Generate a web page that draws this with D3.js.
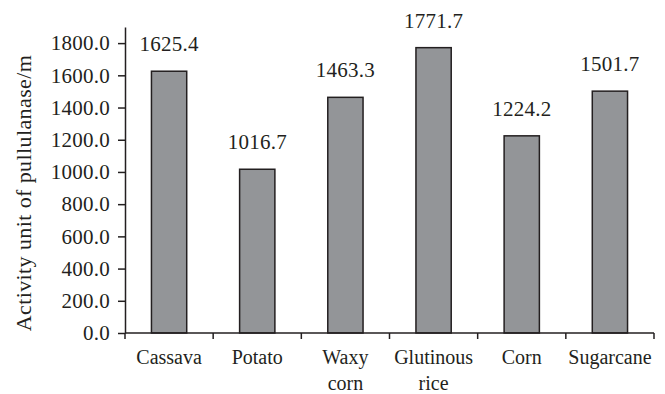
<!DOCTYPE html>
<html>
<head>
<meta charset="utf-8">
<script src="https://cdn.jsdelivr.net/npm/d3@7"></script>
<style>
  html, body { margin: 0; padding: 0; background: #fff; }
  svg { display: block; }
  text { font-family: "Liberation Serif", "DejaVu Serif", serif; fill: #231f20; }
</style>
</head>
<body>
<svg id="chart" width="665" height="394"></svg>
<script>
// Pullulanase activity by carbon source
const categories = ["Cassava", "Potato", "Waxy corn", "Glutinous rice", "Corn", "Sugarcane"];
const categoryLines = [["Cassava"], ["Potato"], ["Waxy", "corn"], ["Glutinous", "rice"], ["Corn"], ["Sugarcane"]];
const activity = [1625.4, 1016.7, 1463.3, 1771.7, 1224.2, 1501.7];
const yTicks = [0, 200, 400, 600, 800, 1000, 1200, 1400, 1600, 1800];
const yTitle = "Activity unit of pullulanase/m";

const svg = d3.select("#chart");
const margin = { left: 125, right: 11, top: 27, bottom: 61 };
const W = 665, H = 394;

const x = d3.scaleBand()
  .domain(categories)
  .range([margin.left, W - margin.right])
  .padding(0);

const y = d3.scaleLinear()
  .domain([0, 1900])
  .range([H - margin.bottom, margin.top]);

const ink = "#231f20";
const barW = x.bandwidth() * 0.4;
const numSize = 21;

// Bars
svg.append("g")
  .selectAll("rect")
  .data(activity)
  .join("rect")
  .attr("x", (d, i) => x(categories[i]) + (x.bandwidth() - barW) / 2)
  .attr("y", d => y(d))
  .attr("width", barW)
  .attr("height", d => y(0) - y(d))
  .attr("fill", "#939598")
  .attr("stroke", ink)
  .attr("stroke-width", 1.5);

// Value labels above bars
svg.append("g")
  .selectAll("text")
  .data(activity)
  .join("text")
  .attr("x", (d, i) => x(categories[i]) + x.bandwidth() / 2)
  .attr("y", d => y(d) - 20)
  .attr("text-anchor", "middle")
  .attr("font-size", numSize)
  .attr("letter-spacing", 0.25)
  .text(d => d.toFixed(1));

// Y axis
const yAxis = svg.append("g")
  .attr("transform", `translate(${margin.left},0)`)
  .call(d3.axisLeft(y).tickValues(yTicks).tickFormat(d3.format(".1f")).tickSize(7).tickPadding(8).tickSizeOuter(0));
yAxis.select(".domain").attr("stroke", ink).attr("stroke-width", 1.5);
yAxis.selectAll(".tick line").attr("stroke", ink).attr("stroke-width", 1.5);
yAxis.selectAll(".tick text")
  .attr("font-size", numSize)
  .attr("letter-spacing", 0.25)
  .attr("fill", ink);

// X axis with ticks at category boundaries
const xAxisG = svg.append("g")
  .attr("transform", `translate(0,${y(0)})`);
xAxisG.append("line")
  .attr("x1", margin.left).attr("x2", W - margin.right)
  .attr("stroke", ink).attr("stroke-width", 1.5);
const bounds = categories.map(c => x(c)).concat([x(categories[categories.length - 1]) + x.bandwidth()]);
xAxisG.selectAll("line.bound")
  .data(bounds)
  .join("line")
  .attr("class", "bound")
  .attr("x1", d => d).attr("x2", d => d)
  .attr("y1", 0).attr("y2", 6)
  .attr("stroke", ink).attr("stroke-width", 1.5);

// Category labels (may wrap to two lines)
const catText = xAxisG.selectAll("text.cat")
  .data(categoryLines)
  .join("text")
  .attr("class", "cat")
  .attr("text-anchor", "middle")
  .attr("font-size", 20)
  .attr("x", (d, i) => x(categories[i]) + x.bandwidth() / 2)
  .attr("y", 31);
catText.selectAll("tspan")
  .data(d => d)
  .join("tspan")
  .attr("x", function () { return d3.select(this.parentNode).attr("x"); })
  .attr("dy", (d, j) => j === 0 ? 0 : 26)
  .text(d => d);

// Y axis title
svg.append("text")
  .attr("transform", `translate(31,193) rotate(-90)`)
  .attr("text-anchor", "middle")
  .attr("font-size", 22)
  .attr("letter-spacing", 0.4)
  .text(yTitle);
</script>
</body>
</html>
